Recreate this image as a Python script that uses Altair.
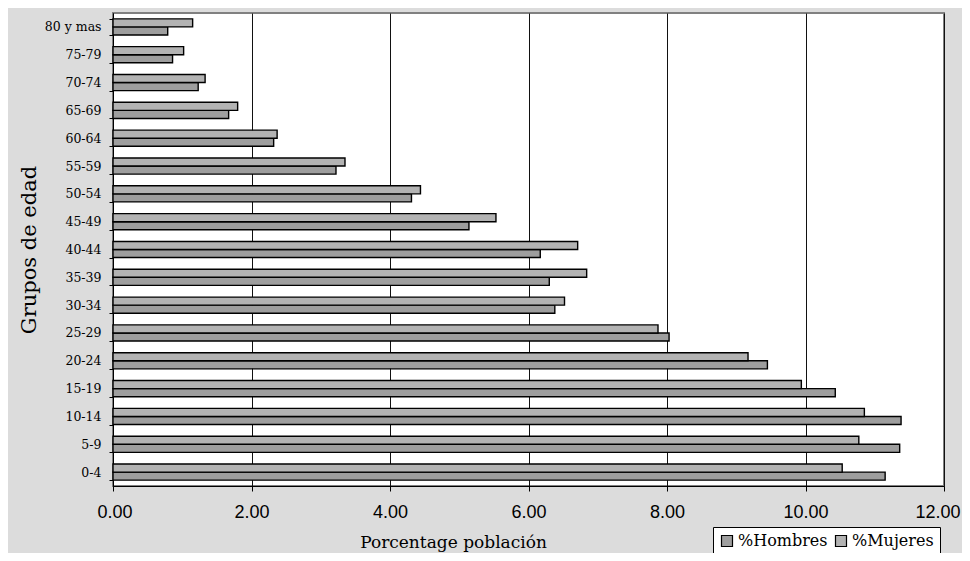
import altair as alt
import pandas as pd

grupos = ["0-4", "5-9", "10-14", "15-19", "20-24", "25-29", "30-34", "35-39",
          "40-44", "45-49", "50-54", "55-59", "60-64", "65-69", "70-74", "75-79", "80 y mas"]
hombres = [11.15, 11.36, 11.38, 10.43, 9.45, 8.03, 6.38, 6.30, 6.17, 5.14, 4.31, 3.22,
           2.32, 1.67, 1.23, 0.86, 0.79]
mujeres = [10.53, 10.77, 10.85, 9.94, 9.17, 7.87, 6.52, 6.84, 6.71, 5.53, 4.44, 3.35,
           2.37, 1.80, 1.33, 1.02, 1.15]
series = ["%Hombres", "%Mujeres"]
x_ticks = [0, 2, 4, 6, 8, 10, 12]

rows = []
for g, h, m in zip(grupos, hombres, mujeres):
    rows.append({"grupo": g, "serie": series[0], "valor": h})
    rows.append({"grupo": g, "serie": series[1], "valor": m})
df = pd.DataFrame(rows)

serif = "DejaVu Serif"

chart = alt.Chart(df).mark_bar(stroke="black", strokeWidth=1.4).encode(
    x=alt.X(
        "valor:Q",
        scale=alt.Scale(domain=[0, 12], nice=False, zero=True),
        axis=alt.Axis(
            values=x_ticks, format=".2f", title="Porcentage población",
            grid=True, gridColor="#111111", gridWidth=1,
            domainColor="black", tickColor="black", tickSize=5,
            labelFont="Liberation Sans", labelFontSize=18, labelColor="black",
            labelPadding=12, labelFlush=True, labelFlushOffset=16,
            labelOverlap=False,
            titleFont=serif, titleFontSize=17, titleFontWeight="normal",
            titleColor="black", titleX=340, titleY=61, titleAlign="center",
            titleBaseline="alphabetic",
        ),
    ),
    y=alt.Y(
        "grupo:N",
        sort=grupos[::-1],
        scale=alt.Scale(paddingInner=0.42, paddingOuter=0.21),
        axis=alt.Axis(
            title="Grupos de edad", grid=False, tickBand="extent",
            domainColor="black", tickColor="black", tickSize=4,
            labelFont=serif, labelFontSize=12.5, labelColor="black", labelPadding=8,
            titleFont=serif, titleFontSize=21, titleFontWeight="normal",
            titleColor="black", titleAngle=270, titleX=-78, titleY=236.5,
            titleAlign="center", titleBaseline="alphabetic",
        ),
    ),
    yOffset=alt.YOffset("serie:N", scale=alt.Scale(domain=["%Mujeres", "%Hombres"])),
    color=alt.Color(
        "serie:N",
        scale=alt.Scale(domain=series, range=["#9e9e9e", "#b3b3b3"]),
        legend=alt.Legend(
            title=None, orient="none", legendX=600, legendY=514,
            direction="horizontal", fillColor="white", strokeColor="black",
            padding=6, symbolType="square", symbolSize=121,
            symbolStrokeColor="black", symbolStrokeWidth=1.2,
            labelFont=serif, labelFontSize=16, labelColor="black",
            labelOffset=3, columnPadding=5,
        ),
    ),
).properties(
    width=831, height=473,
    autosize=alt.AutoSizeParams(type="none"),
    padding={"left": 105, "top": 5, "right": 18, "bottom": 67},
).configure(
    background="#dcdcdc",
).configure_view(
    fill="white", stroke="#808080", strokeWidth=2,
)

chart.save("out.html", embed_options={"renderer": "svg", "actions": False})
